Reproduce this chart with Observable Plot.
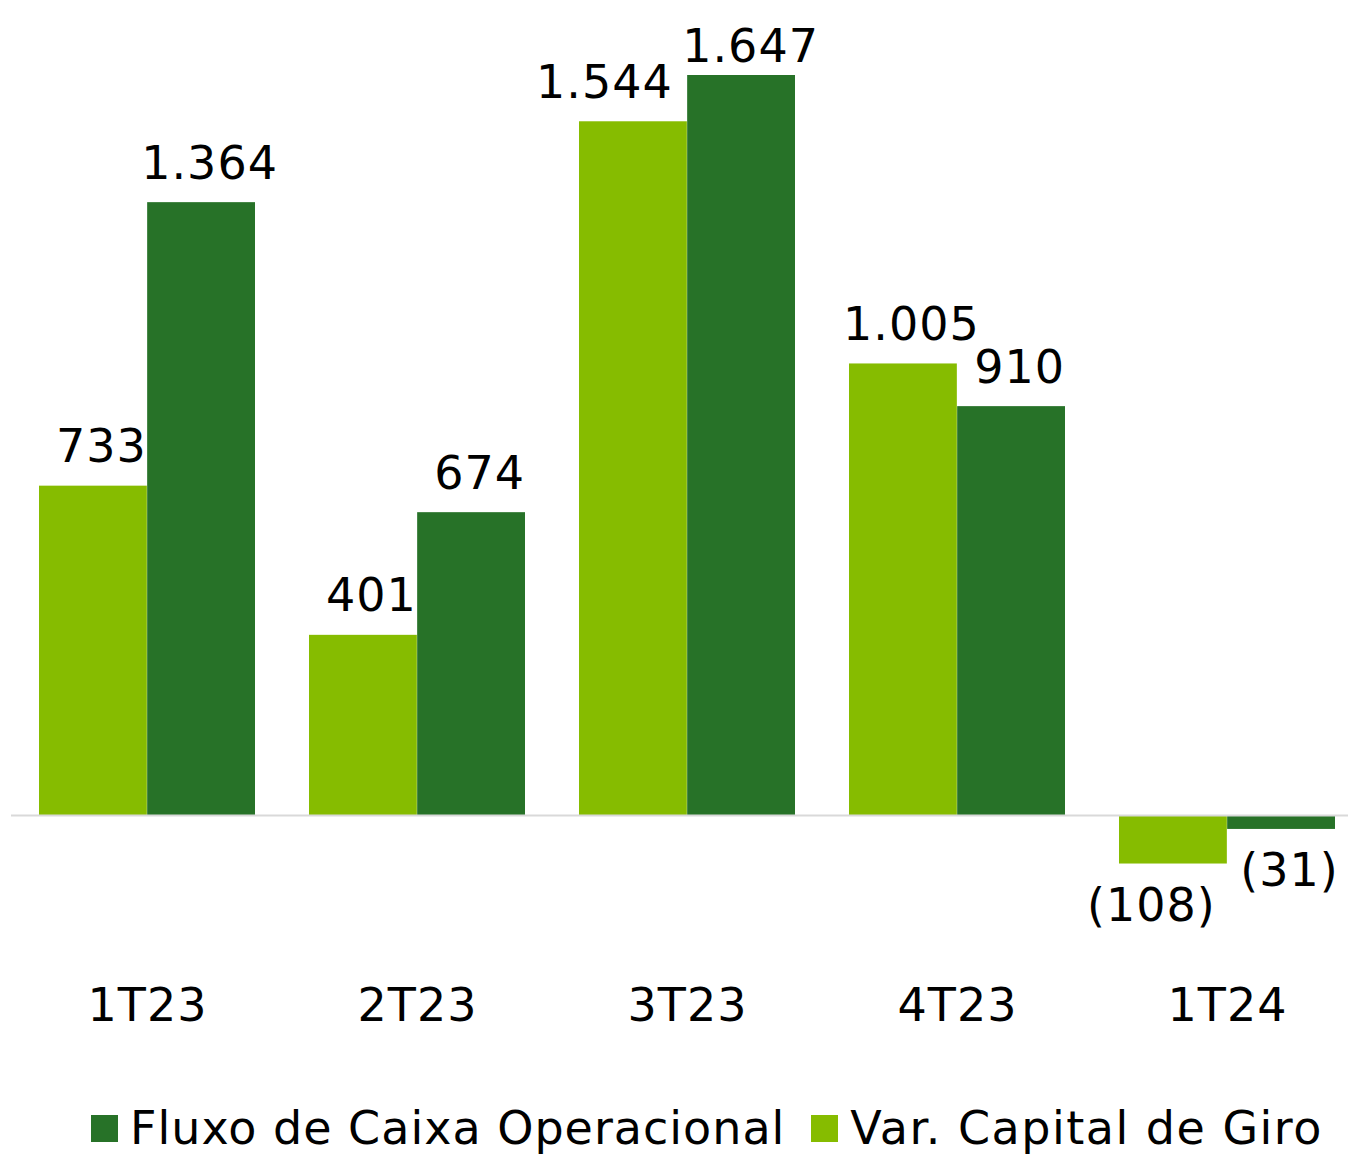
<!DOCTYPE html>
<html>
<head>
<meta charset="utf-8">
<script src="https://cdn.jsdelivr.net/npm/d3@7"></script>
<script src="https://cdn.jsdelivr.net/npm/@observablehq/plot@0.6"></script>
<style>
  html, body { margin: 0; padding: 0; background: #fff; }
  body { width: 1348px; height: 1154px; overflow: hidden; font-family: "DejaVu Sans", Verdana, sans-serif; }
  #legend { display: flex; align-items: center; margin-left: 91px; height: 60px; margin-top: 38px; font-size: 46px; letter-spacing: 1px; color: #000; white-space: nowrap; }
  .sw { width: 27px; height: 27px; display: inline-block; margin-right: 12px; }
  .item { display: flex; align-items: center; margin-right: 26px; }
  .item:last-child { letter-spacing: 1.5px; }
</style>
</head>
<body>
<div id="chart"></div>
<div id="legend"></div>
<script>
const quarters = ["1T23", "2T23", "3T23", "4T23", "1T24"];
const varCapitalGiro = [733, 401, 1544, 1005, -108];
const fluxoCaixaOperacional = [1364, 674, 1647, 910, -31];
const seriesNames = ["Fluxo de Caixa Operacional", "Var. Capital de Giro"];
const colors = { "Fluxo de Caixa Operacional": "#277228", "Var. Capital de Giro": "#86bc00" };

const rows = [];
quarters.forEach((q, i) => {
  rows.push({ quarter: q, series: "Var. Capital de Giro", value: varCapitalGiro[i] });
  rows.push({ quarter: q, series: "Fluxo de Caixa Operacional", value: fluxoCaixaOperacional[i] });
});

const fmt = v => {
  const s = Math.abs(v).toLocaleString("pt-BR");
  return v < 0 ? `(${s})` : s;
};

const xRange = [11, 1363], padIn = 0.2, padOut = 0.1;
const step = (xRange[1] - xRange[0]) / (quarters.length - padIn + 2 * padOut);
const bw = step * (1 - padIn);
const half = bw / 2;

const light = rows.filter(d => d.series === "Var. Capital de Giro");
const dark = rows.filter(d => d.series === "Fluxo de Caixa Operacional");

const labelOpts = (data, dx, neg, extra = {}) => Plot.text(data, {
  x: "quarter", y: "value", text: d => fmt(d.value),
  dx, dy: neg ? 24 : -24, lineAnchor: neg ? "top" : "bottom",
  fontSize: 46, fill: "#000", ...extra
});

const chart = Plot.plot({
  width: 1348,
  height: 1060,
  marginLeft: 11,
  marginRight: 0,
  marginTop: 0,
  marginBottom: 80,
  style: { fontFamily: "DejaVu Sans, Verdana, sans-serif", background: "#fff", letterSpacing: "1px" },
  x: { domain: quarters, range: xRange, paddingInner: padIn, paddingOuter: padOut, label: null },
  y: { domain: [0, 1647], range: [815, 75], axis: null },
  marks: [
    Plot.barY(light, { x: "quarter", y: "value", fill: colors["Var. Capital de Giro"], insetRight: half }),
    Plot.barY(dark, { x: "quarter", y: "value", fill: colors["Fluxo de Caixa Operacional"], insetLeft: half }),
    Plot.ruleY([0], { stroke: "#d9d9d9", strokeWidth: 2 }),
    labelOpts(light.filter(d => d.value >= 0 && d.value < 1500), -half / 2 + 8, false),
    labelOpts(light.filter(d => d.value >= 1500), -half / 2 - 29, false),
    labelOpts(light.filter(d => d.value < 0), -half / 2 - 22, true),
    labelOpts(dark.filter(d => d.value >= 0 && d.value < 1600), half / 2 + 8, false),
    labelOpts(dark.filter(d => d.value >= 1600), half / 2 + 9, false, { dy: -14 }),
    labelOpts(dark.filter(d => d.value < 0), half / 2 + 8, true),
    Plot.axisX({ tickSize: 0, tickPadding: 8, fontSize: 46, label: null, color: "#000" })
  ]
});
document.getElementById("chart").appendChild(chart);

const legend = document.getElementById("legend");
seriesNames.forEach(name => {
  const item = document.createElement("div");
  item.className = "item";
  const sw = document.createElement("span");
  sw.className = "sw";
  sw.style.background = colors[name];
  item.appendChild(sw);
  item.appendChild(document.createTextNode(name));
  legend.appendChild(item);
});
</script>
</body>
</html>
